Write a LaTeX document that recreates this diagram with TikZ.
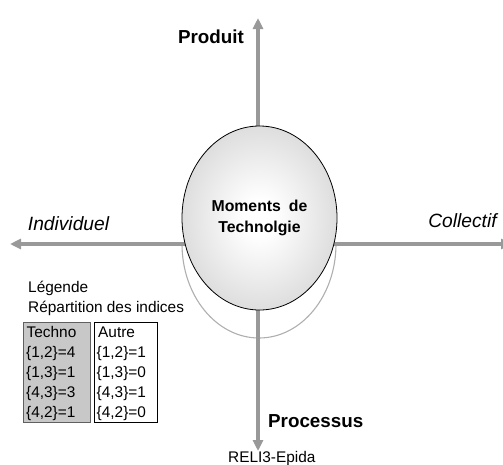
\documentclass[tikz,border=0pt]{standalone}
\usepackage{fontspec}
\setmainfont{Liberation Sans}
\usetikzlibrary{positioning,shapes.geometric,arrows.meta}
\usepackage{xcolor}
\definecolor{axisgray}{RGB}{153,153,153}
\definecolor{arcgray}{RGB}{175,175,175}
\definecolor{boxgray}{RGB}{200,200,200}
\definecolor{boxedge}{RGB}{96,96,96}
\pgfdeclareradialshading{eggshade}{\pgfpoint{0bp}{0bp}}{%
  color(0bp)=(white); color(5bp)=(white); color(28bp)=(gray!30); color(50bp)=(gray!44)}

\begin{document}
\begin{tikzpicture}[x=1pt,y=-1pt]
    \tikzset{
      axis/.style={draw=axisgray, line width=3.5pt, -{Triangle[length=11pt,width=10pt]}},
      pole/.style={font=\fontsize{18.8}{22}\selectfont\bfseries, inner sep=0pt},
      side/.style={font=\fontsize{19.2}{22}\selectfont\itshape, inner sep=0pt},
      legend/.style={font=\fontsize{15.4}{20}\selectfont, inner sep=0pt, anchor=base west},
      tablebox/.style={anchor=north west, minimum height=100pt, inner sep=0pt, line width=0.9pt}
    }
    \useasboundingbox (0,0) rectangle (503,464);
    % Axis ends
    \coordinate (o) at (258,244);
    \coordinate (up) at (258,18);
    \coordinate (down) at (258,451);
    \coordinate (left) at (10,244);
    \coordinate (right) at (512,244);
    % Lower half ring
    \draw[arcgray, line width=1.1pt] (182,244) arc[start angle=180, end angle=360, x radius=77pt, y radius=94pt];
    % Axes
    \draw[axis] (o) -- (up);
    \draw[axis] (o) -- (down);
    \draw[axis] (o) -- (left);
    \draw[axis] (o) -- (right);
    % Central moment
    \node[ellipse, draw, line width=0.8pt, shading=eggshade, minimum width=155pt, minimum height=184pt,
          align=center, font=\fontsize{15.8}{21}\selectfont\bfseries] (moment) at (259.5,218)
          {Moments\hspace{8pt}de\\Technolgie};
    % Pole labels
    \node[pole, anchor=base] (produit) at (211,43) {Produit};
    \node[pole, anchor=base west] (processus) at (268,427) {Processus};
    \node[side, anchor=base] (indiv) at (68.5,230) {Individuel};
    \node[side, anchor=base] (collectif) at (462.5,227) {Collectif};
    \node[legend] (source) at (228,462) {RELI3-Epida};
    % Legend
    \node[legend] (leg) at (28,292) {Légende};
    \node[legend] (rep) at (28,312) {Répartition des indices};
    \node[tablebox, draw=boxedge, fill=boxgray, minimum width=67pt] (techno) at (23,322) {};
    \node[tablebox, draw=black, fill=white, minimum width=63pt] (autre) at (94,322) {};
    \node[legend] (t0) at (26.5,337) {Techno};
    \node[legend] (a0) at (98,337) {Autre};
    \foreach \pair/\vt/\va [count=\i] in {{1,2}/4/1, {1,3}/1/0, {4,3}/3/1, {4,2}/1/0} {
      \node[legend] (t\i) at (26,337+20*\i) {\{\pair\}=\vt};
      \node[legend] (a\i) at (96.5,337+20*\i) {\{\pair\}=\va};
    }
\end{tikzpicture}
\end{document}
